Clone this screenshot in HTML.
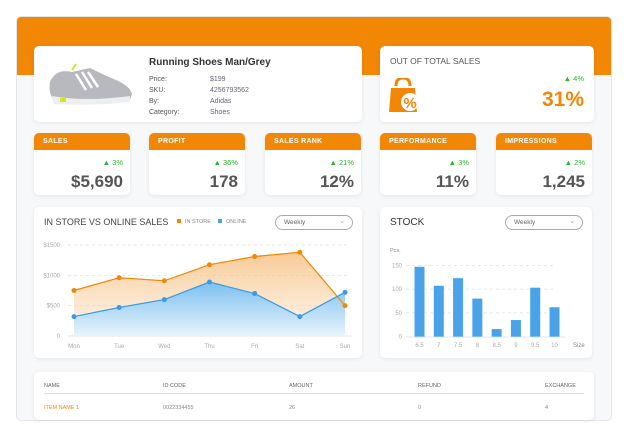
<!DOCTYPE html>
<html><head><meta charset="utf-8">
<style>
*{box-sizing:border-box;margin:0;padding:0}
body{width:630px;height:438px;background:#fff;font-family:"Liberation Sans",sans-serif;position:relative;overflow:hidden;color:#444}
.abs{position:absolute}
.frame{left:16px;top:16px;width:596px;height:405px;background:#f7f8fa;border-radius:5px;border:1px solid #e3e5ea;overflow:hidden}
.band{left:0;top:0;width:596px;height:58px;background:#f28705}
.card{background:#fff;border-radius:5px;box-shadow:0 1px 4px rgba(0,0,0,.08)}
.kpi{top:133px;width:96px;height:62px;overflow:hidden}
.kpi .h{height:17px;background:#f28705;color:#fff;font-size:7px;font-weight:bold;padding:5px 0 0 9px;letter-spacing:.3px}
.kpi .d{position:absolute;right:7px;top:25px;font-size:7.5px;color:#2ab52a}
.kpi .v{position:absolute;right:7px;top:39px;font-size:17px;color:#555;font-weight:bold}
.lbl{font-size:7px;color:#555}
</style></head><body>
<div class="abs frame">
 <div class="abs band"></div>
</div>
<div class="abs card" style="left:34px;top:46px;width:328px;height:76px">
 <svg class="abs" style="left:12px;top:14px" width="90" height="48">
  <path d="M4 22 Q10 8 26 12 L44 8 Q56 14 70 20 Q84 26 86 34 L84 40 Q50 44 8 40 Q2 34 4 22Z" fill="#b8b9be"/>
  <path d="M6 36 Q40 42 84 36 L84 42 Q50 46 8 44Z" fill="#eceef0"/>
  <path d="M30 14 L40 30 M36 12 L46 28 M42 12 L52 27" stroke="#fff" stroke-width="2.5"/>
  <path d="M26 10 L30 4" stroke="#d4e616" stroke-width="2"/><rect x="14" y="38" width="6" height="4" fill="#d4e616"/>
 </svg>
 <div class="abs" style="left:115px;top:11px;font-size:10px;font-weight:bold;color:#333">Running Shoes Man/Grey</div>
 <div class="abs lbl" style="left:115px;top:28px;line-height:11px">Price:<br>SKU:<br>By:<br>Category:</div>
 <div class="abs lbl" style="left:176px;top:28px;line-height:11px;color:#667">$199<br>4256793562<br>Adidas<br>Shoes</div>
</div>
<div class="abs card" style="left:380px;top:46px;width:214px;height:76px">
 <div class="abs" style="left:10px;top:10px;font-size:8.5px;color:#555">OUT OF TOTAL SALES</div>
 <svg class="abs" style="left:8px;top:32px" width="36" height="36">
  <path d="M8 8 Q8 0 15 0 Q22 0 22 8" stroke="#f28705" stroke-width="3" fill="none"/>
  <path d="M3 10 L27 10 L29 34 L1 34Z" fill="#f28705"/>
  <circle cx="22" cy="24" r="9" fill="#fff"/>
  <text x="22" y="30" font-size="15" font-weight="bold" fill="#f28705" text-anchor="middle" font-family="Liberation Sans">%</text>
 </svg>
 <div class="abs" style="right:10px;top:28px;font-size:7.5px;color:#2ab52a">▲ 4%</div>
 <div class="abs" style="right:10px;top:42px;font-size:21px;font-weight:bold;color:#f28705">31%</div>
</div>
<div class="abs card kpi" style="left:34px"><div class="h">SALES</div><div class="d">▲ 3%</div><div class="v">$5,690</div></div>
<div class="abs card kpi" style="left:149px"><div class="h">PROFIT</div><div class="d">▲ 36%</div><div class="v">178</div></div>
<div class="abs card kpi" style="left:265px"><div class="h">SALES RANK</div><div class="d">▲ 21%</div><div class="v">12%</div></div>
<div class="abs card kpi" style="left:380px"><div class="h">PERFORMANCE</div><div class="d">▲ 3%</div><div class="v">11%</div></div>
<div class="abs card kpi" style="left:496px"><div class="h">IMPRESSIONS</div><div class="d">▲ 2%</div><div class="v">1,245</div></div>

<div class="abs card" style="left:34px;top:207px;width:328px;height:151px"></div>
<div class="abs" style="left:44px;top:217px;font-size:9px;color:#444">IN STORE VS ONLINE SALES</div>
<div class="abs" style="left:177px;top:219px;font-size:5.5px;color:#888"><span style="display:inline-block;width:4px;height:4px;background:#f28705;margin-right:4px"></span>IN STORE</div>
<div class="abs" style="left:218px;top:219px;font-size:5.5px;color:#888"><span style="display:inline-block;width:4px;height:4px;background:#4aa3e8;margin-right:4px"></span>ONLINE</div>
<div class="abs" style="left:275px;top:215px;width:78px;height:15px;border:1px solid #aaa;border-radius:8px;font-size:6.5px;color:#666;padding:3px 0 0 8px">Weekly<span style="position:absolute;right:7px;top:1px;color:#999">⌄</span></div>

<div class="abs card" style="left:380px;top:207px;width:212px;height:151px"></div>
<div class="abs" style="left:390px;top:217px;font-size:10px;color:#333">STOCK</div>
<div class="abs" style="left:505px;top:215px;width:78px;height:15px;border:1px solid #aaa;border-radius:8px;font-size:6.5px;color:#666;padding:3px 0 0 8px">Weekly<span style="position:absolute;right:7px;top:1px;color:#999">⌄</span></div>

<svg class="abs" style="left:0;top:0" width="630" height="438" id="charts">
 <defs>
  <linearGradient id="go" x1="0" y1="0" x2="0" y2="1"><stop offset="0" stop-color="#f5b870" stop-opacity=".75"/><stop offset="1" stop-color="#fbe3c8" stop-opacity=".4"/></linearGradient>
  <linearGradient id="gb" x1="0" y1="0" x2="0" y2="1"><stop offset="0" stop-color="#7cc0f0"/><stop offset="1" stop-color="#e8f4fc"/></linearGradient>
 </defs>
</svg>

<div class="abs card" style="left:34px;top:372px;width:560px;height:48px">
 <div class="abs" style="left:10px;top:11px;right:10px;height:11px;border-bottom:1px solid #ddd;font-size:5.5px;color:#666">
  <span class="abs" style="left:0">NAME</span><span class="abs" style="left:119px">ID CODE</span><span class="abs" style="left:245px">AMOUNT</span><span class="abs" style="left:374px">REFUND</span><span class="abs" style="left:501px">EXCHANGE</span>
 </div>
 <div class="abs" style="left:10px;top:33px;right:10px;font-size:5.5px;color:#888">
  <span class="abs" style="left:0;color:#f28705">ITEM NAME 1</span><span class="abs" style="left:119px">0022334455</span><span class="abs" style="left:245px">26</span><span class="abs" style="left:374px">0</span><span class="abs" style="left:501px">4</span>
 </div>
</div>

<script>
const days=["Mon","Tue","Wed","Thu","Fri","Sat","Sun"];
const inStore=[750,960,910,1175,1310,1380,500];
const online=[320,470,600,890,700,320,720];
const salesTicks=[0,500,1000,1500];
const sizes=["6.5","7","7.5","8","8.5","9","9.5","10"];
const stock=[147,107,123,80,16,35,103,62];
const stockTicks=[0,50,100,150];

const svg=document.getElementById('charts');
const NS='http://www.w3.org/2000/svg';
function mk(t,a,p){const e=document.createElementNS(NS,t);for(const k in a)e.setAttribute(k,a[k]);(p||svg).appendChild(e);return e;}
// line chart axes
const lx=i=>74+i*(345-74)/(days.length-1);
const ly=v=>336-v*(91/1500);
salesTicks.forEach(t=>{
 if(t>0){const g=mk('line',{x1:68,x2:350,y1:ly(t),y2:ly(t),stroke:'#ddd','stroke-dasharray':'3,3','stroke-width':0.7});}
 const tx=mk('text',{x:60,y:ly(t)+2,'font-size':6,fill:'#aaa','text-anchor':'end','font-family':'Liberation Sans'});tx.textContent=t?('$'+t):'0';
 
});
const base=mk('line',{x1:68,x2:352,y1:336,y2:336,stroke:'#eee','stroke-width':1.5});
days.forEach((d,i)=>{const tx=mk('text',{x:lx(i),y:348,'font-size':6,fill:'#aaa','text-anchor':'middle','font-family':'Liberation Sans'});tx.textContent=d;
 });
function pts(arr){return arr.map((v,i)=>lx(i)+','+ly(v)).join(' ');}
const areaO=mk('polygon',{points:lx(0)+',336 '+pts(inStore)+' '+lx(days.length-1)+',336',fill:'url(#go)'});

const areaB=mk('polygon',{points:lx(0)+',336 '+pts(online)+' '+lx(days.length-1)+',336',fill:'url(#gb)'});

const lo=mk('polyline',{points:pts(inStore),fill:'none',stroke:'#f28705','stroke-width':1.2});

const lb=mk('polyline',{points:pts(online),fill:'none',stroke:'#3a9ae5','stroke-width':1.2});

inStore.forEach((v,i)=>{const c=mk('circle',{cx:lx(i),cy:ly(v),r:2.5,fill:'#f28705'});
 });
online.forEach((v,i)=>{const c=mk('circle',{cx:lx(i),cy:ly(v),r:2.5,fill:'#3a9ae5'});
 });
// stock chart
const bx=i=>419.5+i*(554.5-419.5)/(sizes.length-1);
const by=v=>336.7-v*(71.4/150);
stockTicks.forEach(t=>{
 if(t>0){const g=mk('line',{x1:406,x2:555,y1:by(t),y2:by(t),stroke:'#ddd','stroke-dasharray':'3,3','stroke-width':0.7});}
 const tx=mk('text',{x:402,y:by(t)+2,'font-size':6,fill:'#aaa','text-anchor':'end','font-family':'Liberation Sans'});tx.textContent=t;
 
});
mk('line',{x1:406,x2:566,y1:337,y2:337,stroke:'#eee','stroke-width':1.5});
const pcs=mk('text',{x:390,y:252,'font-size':5.5,fill:'#888','font-family':'Liberation Sans'});pcs.textContent='Pcs.';

const sz=mk('text',{x:573,y:347,'font-size':6,fill:'#888','font-family':'Liberation Sans'});sz.textContent='Size';

sizes.forEach((s,i)=>{
 const r=mk('rect',{x:bx(i)-5,y:by(stock[i]),width:10,height:336.7-by(stock[i]),fill:'#4aa3e8'});
 
 const tx=mk('text',{x:bx(i),y:347,'font-size':6,fill:'#aaa','text-anchor':'middle','font-family':'Liberation Sans'});tx.textContent=s;
 
});
</script>
</body></html>
